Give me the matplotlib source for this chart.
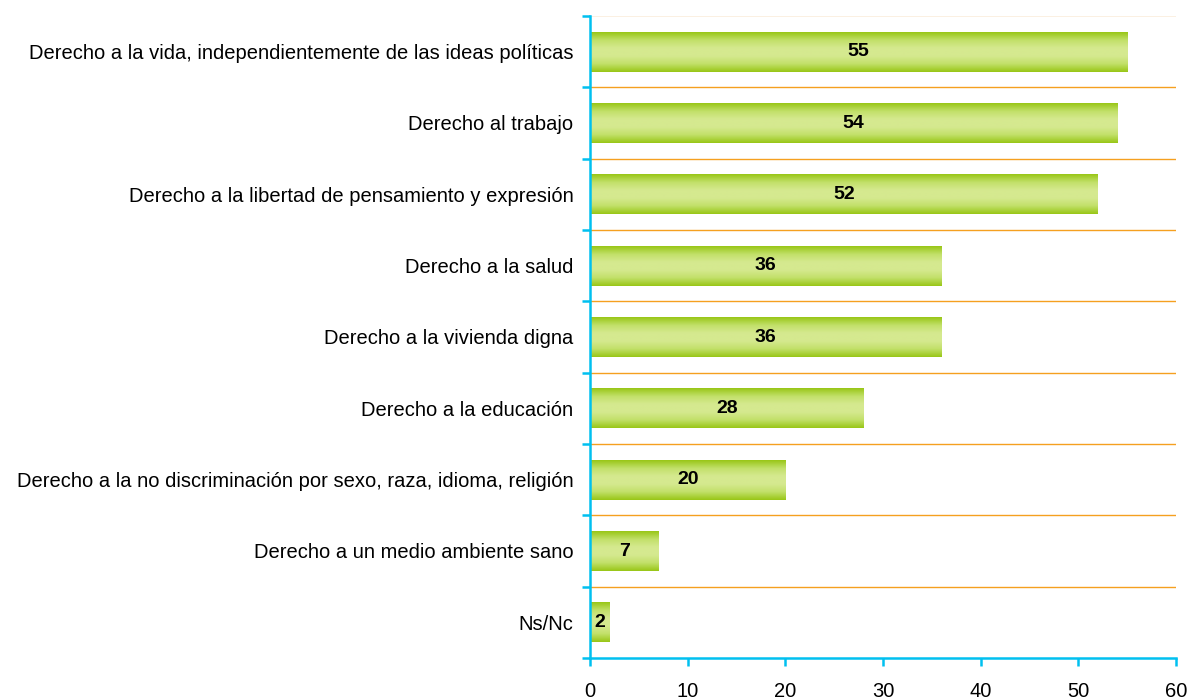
import numpy as np
import matplotlib.pyplot as plt
from matplotlib.colors import LinearSegmentedColormap

categories = [
    'Derecho a la vida, independientemente de las ideas políticas',
    'Derecho al trabajo',
    'Derecho a la libertad de pensamiento y expresión',
    'Derecho a la salud',
    'Derecho a la vivienda digna',
    'Derecho a la educación',
    'Derecho a la no discriminación por sexo, raza, idioma, religión',
    'Derecho a un medio ambiente sano',
    'Ns/Nc',
]
values = [55, 54, 52, 36, 36, 28, 20, 7, 2]
xticks = [0, 10, 20, 30, 40, 50, 60]

plt.rcParams['font.family'] = ['Liberation Sans', 'DejaVu Sans']

fig = plt.figure(figsize=(11.9, 7), dpi=100)
ax = fig.add_axes([590 / 1190, 42 / 700, 586 / 1190, 642 / 700])

n = len(categories)
ypos = np.arange(n)[::-1]  # first category on top
bar_h = 0.56

# vertical gradient: dark green edges, pale middle
cmap = LinearSegmentedColormap.from_list(
    'bar', ['#99c718', '#c2e06a', '#d5e98f', '#d5e98f', '#c2e06a', '#99c718'])
grad = np.linspace(0, 1, 64).reshape(-1, 1)

for y, v in zip(ypos, values):
    ax.imshow(grad, cmap=cmap, aspect='auto', interpolation='bilinear',
              extent=(0, v, y - bar_h / 2, y + bar_h / 2), zorder=2)
    ax.text(v / 2, y, str(v), ha='center', va='center', fontsize=14,
            fontweight='bold', color='black', zorder=3)

# category boundary gridlines
bounds = np.arange(n + 1) - 0.5
for b in bounds[1:-1]:
    ax.axhline(b, color='#f5a020', linewidth=1, zorder=1)
ax.axhline(bounds[-1], color='#fbeedd', linewidth=1.2, zorder=1)

ax.set_xlim(0, 60)
ax.set_ylim(-0.5, n - 0.5)
ax.set_xticks(xticks)
ax.set_yticks(bounds, minor=True)
ax.set_yticks(ypos)
ax.set_yticklabels(categories, fontsize=14.5)

cyan = '#00c0f0'
for s in ['top', 'right']:
    ax.spines[s].set_visible(False)
for s in ['left', 'bottom']:
    ax.spines[s].set_color(cyan)
    ax.spines[s].set_linewidth(1.8)

ax.tick_params(axis='y', which='major', length=0, pad=12)
ax.tick_params(axis='y', which='minor', length=6, width=1.8, color=cyan)
ax.tick_params(axis='x', length=6, width=1.8, color=cyan, labelsize=14.5, pad=11)

fig.savefig('out.png', dpi=100)
